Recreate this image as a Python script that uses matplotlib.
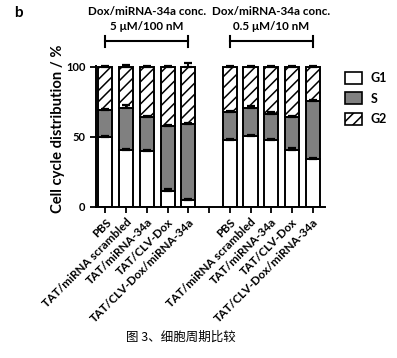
import matplotlib
matplotlib.use("Agg")
import matplotlib.pyplot as plt
import matplotlib.transforms as mtransforms
from matplotlib.patches import Patch
import numpy as np

plt.rcParams['font.family'] = ['Lato', 'DejaVu Sans']
plt.rcParams['hatch.linewidth'] = 1.1

# data
labels = ["PBS", "TAT/miRNA scrambled", "TAT/miRNA-34a", "TAT/CLV-Dox", "TAT/CLV-Dox/miRNA-34a",
          "", "PBS", "TAT/miRNA scrambled", "TAT/miRNA-34a", "TAT/CLV-Dox", "TAT/CLV-Dox/miRNA-34a"]
positions = [0, 1, 2, 3, 4, 6, 7, 8, 9, 10]
g1 = [50, 40.5, 40, 11.5, 5, 47.5, 50.5, 47.5, 40.5, 34.5]
s = [19, 30.5, 24, 46.5, 54, 20.5, 20.5, 19, 23.5, 41]
g2 = [100 - a - b for a, b in zip(g1, s)]
g1_err = [0.8, 1.0, 1.0, 1.2, 0.8, 0.8, 0.8, 0.8, 1.5, 0.8]
s_err = [0.8, 1.5, 0.8, 0.8, 0.8, 0.8, 0.8, 1.2, 1.2, 1.0]
g2_err = [0.3, 1.2, 0.8, 0.5, 2.8, 0.4, 0.8, 0.5, 0.8, 0.6]
groups = ["Dox/miRNA-34a conc.\n5 \u03bcM/100 nM", "Dox/miRNA-34a conc.\n0.5 \u03bcM/10 nM"]

fig = plt.figure(figsize=(3.97, 3.58), dpi=100)
ax = fig.add_axes([0.242, 0.422, 0.577, 0.395])

w = 0.68
x = np.array(positions)
b1 = np.array(g1)
b2 = b1 + np.array(s)
ax.bar(x, g1, w, color="white", edgecolor="black", linewidth=1.4, zorder=2)
ax.bar(x, s, w, bottom=b1, color="#808080", edgecolor="black", linewidth=1.4, zorder=2)
ax.bar(x, g2, w, bottom=b2, color="white", edgecolor="black", linewidth=1.4, hatch="///", zorder=2)
for top, err in [(b1, g1_err), (b2, s_err), (b2 + np.array(g2), g2_err)]:
    ax.errorbar(x, top, yerr=[np.zeros(len(err)), err], fmt="none", ecolor="black",
                elinewidth=1.4, capsize=3, capthick=1.6, zorder=3, clip_on=False)

ax.set_xlim(-0.45, 10.6)
ax.set_ylim(0, 101)
ax.set_yticks([0, 50, 100])
ax.set_xticks(range(11))
ax.set_xticklabels(labels, rotation=45, ha="right", rotation_mode="anchor",
                   fontsize=8.4, fontweight="bold")
for t in ax.get_yticklabels():
    t.set_fontweight("bold")
    t.set_fontsize(8)
ax.tick_params(width=1.3, length=4)
ax.tick_params(axis="x", pad=3)
for sp in ["top", "right"]:
    ax.spines[sp].set_visible(False)
for sp in ["left", "bottom"]:
    ax.spines[sp].set_linewidth(1.4)
ax.set_ylabel("Cell cycle distribution / %", fontsize=10.6, fontweight="bold")
ax.yaxis.set_label_coords(-0.135, 0.555)

# group brackets
trans = mtransforms.blended_transform_factory(ax.transData, fig.transFigure)
for (a, b), txt in zip([(0, 4), (6, 10)], groups):
    ax.plot([a, b], [0.885, 0.885], color="black", lw=1.5, transform=trans, clip_on=False)
    for xx in (a, b):
        ax.plot([xx, xx], [0.87, 0.90], color="black", lw=1.5, transform=trans, clip_on=False)
    ax.text((a + b) / 2, 0.91, txt, transform=trans, ha="center", va="bottom",
            fontsize=8.4, fontweight="bold", linespacing=1.5)

fig.text(0.035, 0.965, "b", fontsize=11, fontweight="bold", va="center")

handles = [Patch(facecolor="white", edgecolor="black", linewidth=1.2, label="G1"),
           Patch(facecolor="#808080", edgecolor="black", linewidth=1.2, label="S"),
           Patch(facecolor="white", edgecolor="black", linewidth=1.2, hatch="///", label="G2")]
fig.legend(handles=handles, loc="upper left", bbox_to_anchor=(0.84, 0.83), frameon=False,
           prop={"weight": "bold", "size": 9}, handlelength=1.4, handleheight=1.1,
           labelspacing=0.65, handletextpad=0.7)

fig.text(0.455, 0.058, "图 3、细胞周期比较", fontsize=9, ha="center", va="center",
         family=["Noto Sans CJK SC", "DejaVu Sans"])

fig.savefig("out.png", dpi=100, facecolor="white")
